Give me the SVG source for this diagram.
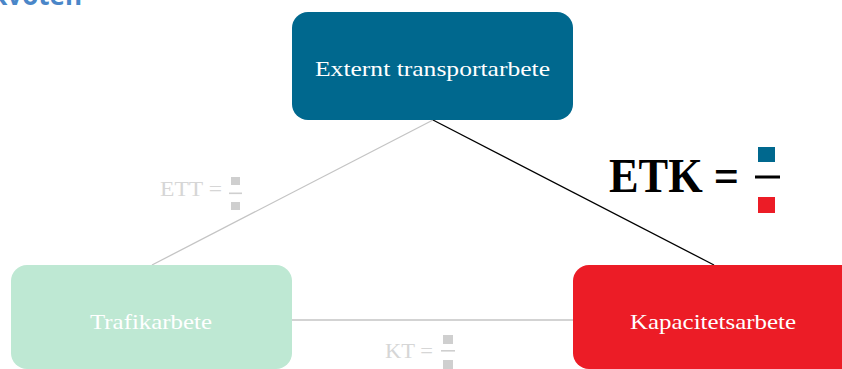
<svg xmlns="http://www.w3.org/2000/svg" width="842" height="369" viewBox="0 0 842 369">
  <style>
    .node-label { font-family: "Liberation Serif", "DejaVu Serif", serif; font-size: 22px; fill: #ffffff; text-anchor: middle; }
    .formula-gray { font-family: "Liberation Serif", serif; font-size: 22px; fill: #d6d6d6; }
    .sq-gray { fill: #cfcfcf; }
    .link-gray { stroke: #c4c4c4; stroke-width: 1.3; fill: none; }
    .link-dark { stroke: #000000; stroke-width: 1.3; fill: none; }
  </style>

  <rect width="842" height="369" fill="#ffffff"/>

  <!-- heading, cropped at the top edge -->
  <text x="82" y="5" font-family="'Open Sans', 'Liberation Sans', sans-serif" font-weight="bold" font-size="26" fill="#4a86c8" text-anchor="end">kvoten</text>

  <g id="connectors">
    <line class="link-gray" x1="433" y1="120" x2="152" y2="265"/>
    <line class="link-dark" x1="433" y1="120" x2="714" y2="265"/>
    <line class="link-gray" x1="291" y1="320" x2="574" y2="320"/>
  </g>

  <g id="node-externt">
    <rect x="292" y="12" width="281" height="108" rx="16" fill="#00688e"/>
    <text class="node-label" x="432.5" y="76" textLength="235" lengthAdjust="spacingAndGlyphs">Externt transportarbete</text>
  </g>

  <g id="node-trafik">
    <rect x="11" y="265" width="281" height="104" rx="16" fill="#bee8d3"/>
    <text class="node-label" x="151" y="329" textLength="122" lengthAdjust="spacingAndGlyphs">Trafikarbete</text>
  </g>

  <g id="node-kapacitet">
    <rect x="573" y="265" width="290" height="104" rx="16" fill="#ec1c26"/>
    <text class="node-label" x="713" y="329" textLength="166" lengthAdjust="spacingAndGlyphs">Kapacitetsarbete</text>
  </g>

  <g id="formula-ett">
    <text class="formula-gray" x="160" y="196" textLength="62" lengthAdjust="spacingAndGlyphs">ETT =</text>
    <rect class="sq-gray" x="231" y="177" width="9" height="8"/>
    <rect class="sq-gray" x="229" y="192.5" width="13" height="1.6"/>
    <rect class="sq-gray" x="231" y="202" width="9" height="8"/>
  </g>

  <g id="formula-kt">
    <text class="formula-gray" x="385" y="358" textLength="48" lengthAdjust="spacingAndGlyphs">KT =</text>
    <rect class="sq-gray" x="443" y="335" width="10" height="9"/>
    <rect class="sq-gray" x="441" y="350" width="14" height="1.6"/>
    <rect class="sq-gray" x="443" y="360" width="10" height="9"/>
  </g>

  <g id="formula-etk">
    <text x="609" y="192" font-family="'Liberation Serif', serif" font-weight="bold" font-size="48" fill="#000000" textLength="130" lengthAdjust="spacingAndGlyphs">ETK =</text>
    <rect x="758" y="147" width="17" height="15" fill="#00688e"/>
    <rect x="755" y="175.5" width="25" height="3" fill="#000000"/>
    <rect x="758" y="197" width="17" height="16" fill="#ec1c26"/>
  </g>
</svg>
